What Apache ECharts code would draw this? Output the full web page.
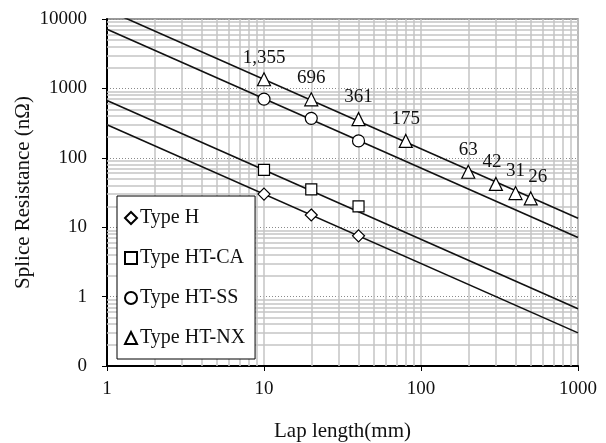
<!DOCTYPE html>
<html>
<head>
<meta charset="utf-8">
<script src="https://cdn.jsdelivr.net/npm/echarts@6/dist/echarts.min.js"></script>
<style>
  html, body { margin: 0; padding: 0; background: #fff; }
  #chart { width: 606px; height: 443px; }
</style>
</head>
<body>
<div id="chart"></div>
<script>
// Lap length (mm) for each measured splice type
const lapH = [10, 20, 40];
const lapCA = [10, 20, 40];
const lapSS = [10, 20, 40];
const lapNX = [10, 20, 40, 80, 200, 300, 400, 500];

// Splice resistance (nΩ)
const resH = [30, 15, 7.5];
const resCA = [67, 35, 20];
const resSS = [700, 370, 175];
const resNX = [1355, 696, 361, 175, 63, 42, 31, 26];

// Power-law trend lines: value at lap 1 mm and at lap 1000 mm
const trendLap = [1, 1000];
const trendH = [300, 0.3];
const trendCA = [670, 0.67];
const trendSS = [7100, 7.1];
const trendNX = [13500, 13.5];

const seriesNames = ['Type H', 'Type HT-CA', 'Type HT-SS', 'Type HT-NX'];
const xTickLabels = ['1', '10', '100', '1000'];
const yTickLabels = ['0', '1', '10', '100', '1000', '10000'];

// Minor grid positions (2..9 of every decade)
const minorX = [];
for (const d of [1, 10, 100]) for (let k = 2; k <= 9; k++) minorX.push(k * d);
const minorY = [];
for (const d of [0.1, 1, 10, 100, 1000]) for (let k = 2; k <= 9; k++) minorY.push(+(k * d).toPrecision(3));

const FONT = "'Liberation Serif', 'Times New Roman', serif";

const zip = (xs, ys) => xs.map((x, i) => [x, ys[i]]);

function trendSeries(vals) {
  return {
    type: 'line',
    data: zip(trendLap, vals),
    showSymbol: false,
    silent: true,
    clip: true,
    z: 3,
    lineStyle: { color: '#111', width: 1.6 },
    animation: false
  };
}

function markerSeries(name, xs, ys, symbol, size) {
  return {
    type: 'scatter',
    name: name,
    data: zip(xs, ys),
    symbol: symbol,
    symbolSize: size,
    z: 5,
    itemStyle: { color: '#fff', borderColor: '#000', borderWidth: 1.2, opacity: 1 },
    animation: false
  };
}

// small horizontal nudges for crowded labels on the HT-NX series
const nxLabelShift = { 5: [-4, 0], 7: [7, 0] };

const nxSeries = markerSeries('Type HT-NX', lapNX, resNX, 'triangle', 13);
nxSeries.label = {
  show: true,
  position: 'top',
  distance: 5,
  color: '#111',
  fontFamily: FONT,
  fontSize: 19,
  formatter: p => p.value[1].toLocaleString('en-US')
};
nxSeries.data = nxSeries.data.map((v, i) =>
  nxLabelShift[i] ? { value: v, label: { offset: nxLabelShift[i] } } : v);

const option = {
  backgroundColor: '#fff',
  animation: false,
  grid: {
    left: 107, right: 28, top: 19, bottom: 77,
    show: true, borderColor: '#7a7a7a', borderWidth: 1.5,
    containLabel: false,
    outerBoundsMode: 'none'
  },
  legend: {
    data: seriesNames,
    orient: 'vertical',
    left: 117, top: 196,
    z: 20,
    padding: [12, 10, 11, 7],
    itemGap: 20,
    itemWidth: 12, itemHeight: 12,
    backgroundColor: '#fff',
    borderColor: '#000',
    borderWidth: 1,
    borderRadius: 0,
    textStyle: { fontFamily: FONT, fontSize: 20, color: '#111', padding: [0, 0, 0, -2] }
  },
  xAxis: {
    type: 'log',
    logBase: 10,
    min: 1, max: 1000,
    interval: 1,
    name: 'Lap length(mm)',
    nameLocation: 'middle',
    nameMoveOverlap: false,
    nameGap: 55,
    nameTextStyle: { fontFamily: FONT, fontSize: 21, color: '#111' },
    axisLine: { show: true, lineStyle: { color: '#000', width: 2 } },
    axisTick: { show: true, inside: false, length: 5, lineStyle: { color: '#000', width: 1 } },
    axisLabel: {
      fontFamily: FONT, fontSize: 19, color: '#111', margin: 14,
      formatter: v => xTickLabels[Math.round(Math.log10(v))]
    },
    splitLine: { show: true, lineStyle: { color: '#c4c4c4', width: 1.5 } }
  },
  yAxis: {
    type: 'log',
    logBase: 10,
    min: 0.1, max: 10000,
    interval: 1,
    name: 'Splice Resistance (nΩ)',
    nameLocation: 'middle',
    nameMoveOverlap: false,
    nameGap: 73,
    nameTextStyle: { fontFamily: FONT, fontSize: 21, color: '#111' },
    axisLine: { show: true, lineStyle: { color: '#000', width: 2 } },
    axisTick: { show: true, inside: false, length: 5, lineStyle: { color: '#000', width: 1 } },
    axisLabel: {
      fontFamily: FONT, fontSize: 19, color: '#111', margin: 20,
      formatter: v => yTickLabels[Math.round(Math.log10(v)) + 1]
    },
    splitLine: { show: true, lineStyle: { color: '#8a8a8a', width: 1, type: [1, 2] } }
  },
  series: [
    {
      // minor grid drawn through the axes' own scales
      type: 'line',
      data: [],
      silent: true,
      z: 1,
      markLine: {
        z: 1,
        silent: true,
        symbol: ['none', 'none'],
        label: { show: false },
        animation: false,
        lineStyle: { color: '#c4c4c4', width: 1.5, type: 'solid' },
        data: minorX.map(v => ({ xAxis: v })).concat(minorY.map(v => ({ yAxis: v })))
      }
    },
    trendSeries(trendH),
    trendSeries(trendCA),
    trendSeries(trendSS),
    trendSeries(trendNX),
    markerSeries('Type H', lapH, resH, 'diamond', 12),
    markerSeries('Type HT-CA', lapCA, resCA, 'rect', 11),
    markerSeries('Type HT-SS', lapSS, resSS, 'circle', 12),
    nxSeries
  ]
};

const chart = echarts.init(document.getElementById('chart'), null, { renderer: 'canvas' });
chart.setOption(option);
</script>
</body>
</html>
